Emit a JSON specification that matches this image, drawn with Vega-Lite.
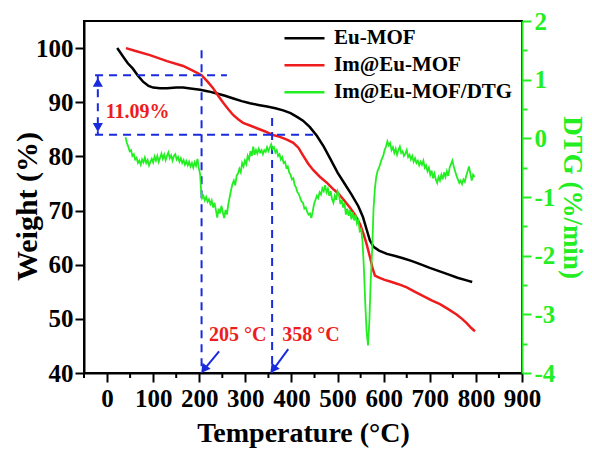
{
  "$schema": "https://vega.github.io/schema/vega-lite/v6.json",
  "width": 438,
  "height": 352,
  "autosize": "none",
  "padding": {"left": 84, "top": 21, "right": 70, "bottom": 79},
  "config": {
    "view": {"stroke": "black", "strokeWidth": 2},
    "font": "Liberation Serif",
    "axis": {"labelFont": "Liberation Serif", "labelFontWeight": "bold", "labelFontSize": 25, "titleFont": "Liberation Serif", "titleFontWeight": "bold", "titleFontSize": 28, "grid": false, "domainColor": "black", "domainWidth": 2, "tickColor": "black", "tickWidth": 2, "labelColor": "black", "titleColor": "black", "labelOverlap": false, "labelFlush": false}
  },
  "datasets": {
    "tga": [
      {"T": 22, "W": 100, "series": "Eu-MOF"}, {"T": 35, "W": 98.4, "series": "Eu-MOF"}, {"T": 45, "W": 97.2, "series": "Eu-MOF"}, {"T": 56, "W": 96.2, "series": "Eu-MOF"}, {"T": 67, "W": 94.9, "series": "Eu-MOF"}, {"T": 78, "W": 93.8, "series": "Eu-MOF"}, {"T": 90, "W": 93.0, "series": "Eu-MOF"}, {"T": 100, "W": 92.7, "series": "Eu-MOF"}, {"T": 115, "W": 92.6, "series": "Eu-MOF"}, {"T": 130, "W": 92.6, "series": "Eu-MOF"}, {"T": 150, "W": 92.7, "series": "Eu-MOF"}, {"T": 165, "W": 92.7, "series": "Eu-MOF"}, {"T": 185, "W": 92.5, "series": "Eu-MOF"}, {"T": 202, "W": 92.3, "series": "Eu-MOF"}, {"T": 220, "W": 92.0, "series": "Eu-MOF"}, {"T": 238, "W": 91.6, "series": "Eu-MOF"}, {"T": 256, "W": 91.2, "series": "Eu-MOF"}, {"T": 274, "W": 90.7, "series": "Eu-MOF"}, {"T": 292, "W": 90.2, "series": "Eu-MOF"}, {"T": 310, "W": 89.8, "series": "Eu-MOF"}, {"T": 328, "W": 89.5, "series": "Eu-MOF"}, {"T": 347, "W": 89.2, "series": "Eu-MOF"}, {"T": 365, "W": 88.9, "series": "Eu-MOF"}, {"T": 382, "W": 88.5, "series": "Eu-MOF"}, {"T": 398, "W": 88.0, "series": "Eu-MOF"}, {"T": 412, "W": 87.3, "series": "Eu-MOF"}, {"T": 425, "W": 86.6, "series": "Eu-MOF"}, {"T": 440, "W": 85.4, "series": "Eu-MOF"}, {"T": 455, "W": 83.8, "series": "Eu-MOF"}, {"T": 470, "W": 81.8, "series": "Eu-MOF"}, {"T": 484, "W": 79.6, "series": "Eu-MOF"}, {"T": 500, "W": 77.0, "series": "Eu-MOF"}, {"T": 515, "W": 75.0, "series": "Eu-MOF"}, {"T": 530, "W": 73.0, "series": "Eu-MOF"}, {"T": 545, "W": 70.8, "series": "Eu-MOF"}, {"T": 555, "W": 68.8, "series": "Eu-MOF"}, {"T": 563, "W": 66.5, "series": "Eu-MOF"}, {"T": 570, "W": 64.5, "series": "Eu-MOF"}, {"T": 578, "W": 63.3, "series": "Eu-MOF"}, {"T": 590, "W": 62.6, "series": "Eu-MOF"}, {"T": 607, "W": 62.0, "series": "Eu-MOF"}, {"T": 625, "W": 61.6, "series": "Eu-MOF"}, {"T": 642, "W": 61.2, "series": "Eu-MOF"}, {"T": 660, "W": 60.7, "series": "Eu-MOF"}, {"T": 679, "W": 60.1, "series": "Eu-MOF"}, {"T": 700, "W": 59.4, "series": "Eu-MOF"}, {"T": 720, "W": 58.8, "series": "Eu-MOF"}, {"T": 740, "W": 58.2, "series": "Eu-MOF"}, {"T": 760, "W": 57.6, "series": "Eu-MOF"}, {"T": 780, "W": 57.1, "series": "Eu-MOF"}, {"T": 792, "W": 56.8, "series": "Eu-MOF"},
      {"T": 41, "W": 100, "series": "Im@Eu-MOF"}, {"T": 60, "W": 99.5, "series": "Im@Eu-MOF"}, {"T": 93, "W": 98.7, "series": "Im@Eu-MOF"}, {"T": 130, "W": 97.6, "series": "Im@Eu-MOF"}, {"T": 165, "W": 96.7, "series": "Im@Eu-MOF"}, {"T": 187, "W": 95.8, "series": "Im@Eu-MOF"}, {"T": 205, "W": 95.0, "series": "Im@Eu-MOF"}, {"T": 218, "W": 93.8, "series": "Im@Eu-MOF"}, {"T": 230, "W": 92.6, "series": "Im@Eu-MOF"}, {"T": 241, "W": 91.2, "series": "Im@Eu-MOF"}, {"T": 252, "W": 89.9, "series": "Im@Eu-MOF"}, {"T": 263, "W": 88.7, "series": "Im@Eu-MOF"}, {"T": 274, "W": 87.6, "series": "Im@Eu-MOF"}, {"T": 285, "W": 86.8, "series": "Im@Eu-MOF"}, {"T": 295, "W": 86.2, "series": "Im@Eu-MOF"}, {"T": 310, "W": 85.7, "series": "Im@Eu-MOF"}, {"T": 325, "W": 85.2, "series": "Im@Eu-MOF"}, {"T": 343, "W": 84.6, "series": "Im@Eu-MOF"}, {"T": 358, "W": 84.0, "series": "Im@Eu-MOF"}, {"T": 375, "W": 83.6, "series": "Im@Eu-MOF"}, {"T": 390, "W": 83.1, "series": "Im@Eu-MOF"}, {"T": 404, "W": 82.5, "series": "Im@Eu-MOF"}, {"T": 415, "W": 81.6, "series": "Im@Eu-MOF"}, {"T": 425, "W": 80.2, "series": "Im@Eu-MOF"}, {"T": 436, "W": 78.7, "series": "Im@Eu-MOF"}, {"T": 447, "W": 77.5, "series": "Im@Eu-MOF"}, {"T": 462, "W": 76.2, "series": "Im@Eu-MOF"}, {"T": 477, "W": 75.1, "series": "Im@Eu-MOF"}, {"T": 490, "W": 74.0, "series": "Im@Eu-MOF"}, {"T": 501, "W": 73.2, "series": "Im@Eu-MOF"}, {"T": 515, "W": 71.8, "series": "Im@Eu-MOF"}, {"T": 527, "W": 70.5, "series": "Im@Eu-MOF"}, {"T": 538, "W": 69.2, "series": "Im@Eu-MOF"}, {"T": 549, "W": 67.4, "series": "Im@Eu-MOF"}, {"T": 557, "W": 65.5, "series": "Im@Eu-MOF"}, {"T": 563, "W": 63.8, "series": "Im@Eu-MOF"}, {"T": 570, "W": 61.5, "series": "Im@Eu-MOF"}, {"T": 576, "W": 59.3, "series": "Im@Eu-MOF"}, {"T": 581, "W": 58.0, "series": "Im@Eu-MOF"}, {"T": 590, "W": 57.6, "series": "Im@Eu-MOF"}, {"T": 602, "W": 57.2, "series": "Im@Eu-MOF"}, {"T": 614, "W": 56.9, "series": "Im@Eu-MOF"}, {"T": 632, "W": 56.4, "series": "Im@Eu-MOF"}, {"T": 650, "W": 55.8, "series": "Im@Eu-MOF"}, {"T": 668, "W": 55.0, "series": "Im@Eu-MOF"}, {"T": 686, "W": 54.2, "series": "Im@Eu-MOF"}, {"T": 704, "W": 53.4, "series": "Im@Eu-MOF"}, {"T": 722, "W": 52.7, "series": "Im@Eu-MOF"}, {"T": 740, "W": 51.8, "series": "Im@Eu-MOF"}, {"T": 758, "W": 50.8, "series": "Im@Eu-MOF"}, {"T": 770, "W": 50.0, "series": "Im@Eu-MOF"}, {"T": 780, "W": 49.2, "series": "Im@Eu-MOF"}, {"T": 790, "W": 48.3, "series": "Im@Eu-MOF"}, {"T": 798, "W": 47.7, "series": "Im@Eu-MOF"}
    ],
    "dtg": [
      {"T":40,"D":0.02},{"T":43,"D":-0.08},{"T":46,"D":-0.14},{"T":49,"D":-0.22},{"T":52,"D":-0.2},{"T":55,"D":-0.3},{"T":58,"D":-0.27},{"T":61,"D":-0.36},{"T":64,"D":-0.33},{"T":67,"D":-0.42},{"T":70,"D":-0.38},{"T":73,"D":-0.45},{"T":76,"D":-0.36},{"T":79,"D":-0.41},{"T":82,"D":-0.33},{"T":85,"D":-0.42},{"T":88,"D":-0.37},{"T":91,"D":-0.46},{"T":94,"D":-0.4},{"T":97,"D":-0.35},{"T":100,"D":-0.41},{"T":103,"D":-0.31},{"T":106,"D":-0.38},{"T":109,"D":-0.3},{"T":112,"D":-0.4},{"T":115,"D":-0.33},{"T":118,"D":-0.26},{"T":121,"D":-0.35},{"T":124,"D":-0.28},{"T":127,"D":-0.37},{"T":130,"D":-0.3},{"T":133,"D":-0.24},{"T":136,"D":-0.34},{"T":139,"D":-0.29},{"T":142,"D":-0.38},{"T":145,"D":-0.3},{"T":148,"D":-0.27},{"T":151,"D":-0.36},{"T":154,"D":-0.32},{"T":157,"D":-0.4},{"T":160,"D":-0.34},{"T":163,"D":-0.42},{"T":166,"D":-0.37},{"T":169,"D":-0.45},{"T":172,"D":-0.39},{"T":175,"D":-0.46},{"T":178,"D":-0.4},{"T":181,"D":-0.48},{"T":184,"D":-0.42},{"T":187,"D":-0.5},{"T":190,"D":-0.41},{"T":193,"D":-0.47},{"T":196,"D":-0.35},{"T":199,"D":-0.5},{"T":202,"D":-0.62},{"T":204,"D":-0.9},{"T":206,"D":-1.02},{"T":209,"D":-0.98},{"T":212,"D":-1.06},{"T":215,"D":-1.0},{"T":218,"D":-1.08},{"T":221,"D":-1.04},{"T":224,"D":-1.12},{"T":227,"D":-1.06},{"T":230,"D":-1.18},{"T":233,"D":-1.1},{"T":236,"D":-1.22},{"T":239,"D":-1.35},{"T":242,"D":-1.2},{"T":245,"D":-1.28},{"T":248,"D":-1.15},{"T":251,"D":-1.26},{"T":254,"D":-1.36},{"T":257,"D":-1.22},{"T":260,"D":-1.3},{"T":263,"D":-1.12},{"T":266,"D":-1.0},{"T":269,"D":-0.88},{"T":272,"D":-0.78},{"T":275,"D":-0.72},{"T":278,"D":-0.8},{"T":281,"D":-0.64},{"T":284,"D":-0.6},{"T":287,"D":-0.52},{"T":290,"D":-0.58},{"T":293,"D":-0.42},{"T":296,"D":-0.48},{"T":299,"D":-0.38},{"T":302,"D":-0.44},{"T":305,"D":-0.3},{"T":308,"D":-0.36},{"T":311,"D":-0.22},{"T":314,"D":-0.3},{"T":317,"D":-0.14},{"T":320,"D":-0.28},{"T":323,"D":-0.2},{"T":326,"D":-0.26},{"T":329,"D":-0.18},{"T":332,"D":-0.24},{"T":335,"D":-0.2},{"T":338,"D":-0.27},{"T":341,"D":-0.2},{"T":344,"D":-0.23},{"T":347,"D":-0.15},{"T":350,"D":-0.22},{"T":353,"D":-0.16},{"T":356,"D":-0.1},{"T":359,"D":-0.18},{"T":362,"D":-0.15},{"T":365,"D":-0.24},{"T":368,"D":-0.2},{"T":371,"D":-0.3},{"T":374,"D":-0.27},{"T":377,"D":-0.36},{"T":380,"D":-0.32},{"T":383,"D":-0.42},{"T":386,"D":-0.4},{"T":389,"D":-0.5},{"T":392,"D":-0.48},{"T":395,"D":-0.58},{"T":398,"D":-0.62},{"T":401,"D":-0.7},{"T":404,"D":-0.68},{"T":407,"D":-0.8},{"T":410,"D":-0.84},{"T":413,"D":-0.92},{"T":416,"D":-0.95},{"T":419,"D":-1.02},{"T":422,"D":-1.08},{"T":425,"D":-1.1},{"T":428,"D":-1.2},{"T":431,"D":-1.18},{"T":434,"D":-1.25},{"T":437,"D":-1.3},{"T":440,"D":-1.28},{"T":443,"D":-1.36},{"T":446,"D":-1.25},{"T":449,"D":-1.12},{"T":452,"D":-1.05},{"T":455,"D":-0.98},{"T":458,"D":-1.02},{"T":461,"D":-0.92},{"T":464,"D":-0.96},{"T":467,"D":-0.85},{"T":470,"D":-0.9},{"T":473,"D":-0.8},{"T":476,"D":-0.92},{"T":479,"D":-0.86},{"T":482,"D":-0.98},{"T":485,"D":-0.9},{"T":488,"D":-1.04},{"T":491,"D":-1.1},{"T":494,"D":-0.98},{"T":497,"D":-1.05},{"T":500,"D":-0.9},{"T":503,"D":-0.96},{"T":506,"D":-1.12},{"T":509,"D":-1.05},{"T":512,"D":-1.18},{"T":515,"D":-1.1},{"T":518,"D":-1.3},{"T":521,"D":-1.2},{"T":524,"D":-1.32},{"T":527,"D":-1.22},{"T":530,"D":-1.38},{"T":533,"D":-1.26},{"T":536,"D":-1.4},{"T":539,"D":-1.3},{"T":542,"D":-1.45},{"T":545,"D":-1.4},{"T":548,"D":-1.58},{"T":551,"D":-1.55},{"T":554,"D":-1.75},{"T":557,"D":-2.2},{"T":560,"D":-2.8},{"T":563,"D":-3.3},{"T":566,"D":-3.53},{"T":569,"D":-3.1},{"T":572,"D":-2.4},{"T":575,"D":-1.9},{"T":578,"D":-1.2},{"T":581,"D":-0.85},{"T":584,"D":-0.65},{"T":587,"D":-0.55},{"T":590,"D":-0.5},{"T":593,"D":-0.42},{"T":596,"D":-0.35},{"T":599,"D":-0.3},{"T":602,"D":-0.2},{"T":605,"D":-0.14},{"T":608,"D":-0.05},{"T":611,"D":-0.12},{"T":614,"D":-0.08},{"T":617,"D":-0.2},{"T":620,"D":-0.15},{"T":623,"D":-0.25},{"T":626,"D":-0.18},{"T":629,"D":-0.28},{"T":632,"D":-0.2},{"T":635,"D":-0.14},{"T":638,"D":-0.25},{"T":641,"D":-0.22},{"T":644,"D":-0.3},{"T":647,"D":-0.26},{"T":650,"D":-0.2},{"T":653,"D":-0.32},{"T":656,"D":-0.28},{"T":659,"D":-0.36},{"T":662,"D":-0.3},{"T":665,"D":-0.4},{"T":668,"D":-0.34},{"T":671,"D":-0.42},{"T":674,"D":-0.38},{"T":677,"D":-0.46},{"T":680,"D":-0.4},{"T":683,"D":-0.45},{"T":686,"D":-0.38},{"T":689,"D":-0.5},{"T":692,"D":-0.46},{"T":695,"D":-0.56},{"T":698,"D":-0.5},{"T":701,"D":-0.62},{"T":704,"D":-0.55},{"T":707,"D":-0.68},{"T":710,"D":-0.6},{"T":713,"D":-0.7},{"T":716,"D":-0.76},{"T":719,"D":-0.66},{"T":722,"D":-0.72},{"T":725,"D":-0.62},{"T":728,"D":-0.7},{"T":731,"D":-0.58},{"T":734,"D":-0.66},{"T":737,"D":-0.56},{"T":740,"D":-0.64},{"T":743,"D":-0.5},{"T":746,"D":-0.44},{"T":749,"D":-0.38},{"T":752,"D":-0.48},{"T":755,"D":-0.56},{"T":758,"D":-0.64},{"T":761,"D":-0.7},{"T":764,"D":-0.76},{"T":767,"D":-0.72},{"T":770,"D":-0.78},{"T":773,"D":-0.7},{"T":776,"D":-0.74},{"T":779,"D":-0.64},{"T":782,"D":-0.56},{"T":785,"D":-0.48},{"T":788,"D":-0.6},{"T":791,"D":-0.72},{"T":794,"D":-0.62},{"T":797,"D":-0.66}
    ],
    "minorx": [
      {"x": -50, "y": 40, "y2": 39.08}, {"x": 50, "y": 40, "y2": 39.08}, {"x": 150, "y": 40, "y2": 39.08}, {"x": 250, "y": 40, "y2": 39.08}, {"x": 350, "y": 40, "y2": 39.08}, {"x": 450, "y": 40, "y2": 39.08}, {"x": 550, "y": 40, "y2": 39.08}, {"x": 650, "y": 40, "y2": 39.08}, {"x": 750, "y": 40, "y2": 39.08}, {"x": 850, "y": 40, "y2": 39.08}
    ],
    "guides": [
      {"x": -26, "x2": 260, "y": 95, "y2": 95},
      {"x": -26, "x2": 447, "y": 84, "y2": 84},
      {"x": 205, "x2": 205, "y": 99.6, "y2": 40},
      {"x": 358, "x2": 358, "y": 87.1, "y2": 40},
      {"x": -20, "x2": -20, "y": 95, "y2": 84}
    ],
    "arrows": [
      {"x": 243, "x2": 212, "y": 44, "y2": 40.8},
      {"x": 393, "x2": 362, "y": 44.4, "y2": 40.8}
    ],
    "heads": [
      {"x": -20, "y": 93.4, "dir": 0},
      {"x": -20, "y": 85.6, "dir": 180},
      {"x": 212, "y": 40.9, "dir": 217},
      {"x": 362, "y": 40.9, "dir": 217}
    ],
    "labels": [
      {"x": -3, "y": 88.2, "text": "11.09%"},
      {"x": 221, "y": 47.1, "text": "205 °C"},
      {"x": 380, "y": 47.1, "text": "358 °C"}
    ]
  },
  "layer": [
    {
      "layer": [
        {
          "data": {"name": "tga"},
          "mark": {"type": "line", "strokeWidth": 2.5},
          "encoding": {
            "x": {"field": "T", "type": "quantitative", "scale": {"domain": [-50, 900], "nice": false, "zero": false},
              "axis": {"title": "Temperature (°C)", "values": [0, 100, 200, 300, 400, 500, 600, 700, 800, 900], "format": "d", "tickSize": 9, "labelPadding": 4, "titlePadding": 8}},
            "y": {"field": "W", "type": "quantitative", "scale": {"domain": [40, 105], "nice": false, "zero": false},
              "axis": {"orient": "left", "title": "Weight (%)", "titleFontSize": 30, "values": [40, 45, 50, 55, 60, 65, 70, 75, 80, 85, 90, 95, 100],
                "labelExpr": "datum.value % 10 === 0 ? '' + datum.value : ''", "tickSize": {"condition": {"test": "datum.value % 10 !== 0", "value": 5}, "value": 9}, "labelPadding": 2, "titleX": -42, "titleY": 185}},
            "color": {"field": "series", "type": "nominal",
              "scale": {"domain": ["Eu-MOF", "Im@Eu-MOF", "Im@Eu-MOF/DTG"], "range": ["#000000", "#ee1c1c", "#22ee22"]},
              "legend": {"orient": "none", "legendX": 199, "legendY": 4, "title": null, "symbolType": "stroke", "symbolSize": 1600, "symbolStrokeWidth": 2.5, "labelFont": "Liberation Serif", "labelFontSize": 21, "labelFontWeight": "bold", "labelColor": "black", "labelLimit": 400, "clipHeight": 26.5, "rowPadding": 0, "labelOffset": 8}}
          }
        },
        {
          "data": {"name": "minorx"},
          "mark": {"type": "rule", "color": "black", "strokeWidth": 2},
          "encoding": {
            "x": {"field": "x", "type": "quantitative"},
            "y": {"field": "y", "type": "quantitative"},
            "y2": {"field": "y2"}
          }
        },
        {
          "data": {"name": "guides"},
          "mark": {"type": "rule", "color": "#1a2bdd", "strokeWidth": 2, "strokeDash": [8, 6]},
          "encoding": {
            "x": {"field": "x", "type": "quantitative"},
            "x2": {"field": "x2"},
            "y": {"field": "y", "type": "quantitative"},
            "y2": {"field": "y2"}
          }
        },
        {
          "data": {"name": "arrows"},
          "mark": {"type": "rule", "color": "#1a2bdd", "strokeWidth": 2},
          "encoding": {
            "x": {"field": "x", "type": "quantitative"},
            "x2": {"field": "x2"},
            "y": {"field": "y", "type": "quantitative"},
            "y2": {"field": "y2"}
          }
        },
        {
          "data": {"name": "heads"},
          "mark": {"type": "point", "shape": "triangle", "filled": true, "fill": "#1a2bdd", "stroke": "#1a2bdd", "size": 45, "opacity": 1},
          "encoding": {
            "x": {"field": "x", "type": "quantitative"},
            "y": {"field": "y", "type": "quantitative"},
            "angle": {"field": "dir", "type": "quantitative", "scale": null}
          }
        },
        {
          "data": {"name": "labels"},
          "mark": {"type": "text", "align": "left", "baseline": "middle", "font": "Liberation Serif", "fontWeight": "bold", "fontSize": 20, "color": "#ee1c1c"},
          "encoding": {
            "x": {"field": "x", "type": "quantitative"},
            "y": {"field": "y", "type": "quantitative"},
            "text": {"field": "text"}
          }
        }
      ]
    },
    {
      "data": {"name": "dtg"},
      "transform": [{"calculate": "'Im@Eu-MOF/DTG'", "as": "series"}],
      "mark": {"type": "line", "strokeWidth": 1.8},
      "encoding": {
        "x": {"field": "T", "type": "quantitative",
          "axis": {"title": "Temperature (°C)", "values": [0, 100, 200, 300, 400, 500, 600, 700, 800, 900], "format": "d", "tickSize": 9, "labelPadding": 4, "titlePadding": 8}},
        "y": {"field": "D", "type": "quantitative", "scale": {"domain": [-4, 2], "nice": false, "zero": false},
          "axis": {"orient": "right", "title": "DTG (%/min)", "titleFontSize": 27, "values": [-4, -3.5, -3, -2.5, -2, -1.5, -1, -0.5, 0, 0.5, 1, 1.5, 2],
            "labelExpr": "datum.value % 1 === 0 ? '' + datum.value : ''", "tickSize": {"condition": {"test": "datum.value % 1 !== 0", "value": 5}, "value": 9},
            "domainColor": "#22ee22", "tickColor": "#22ee22", "labelColor": "#22ee22", "titleColor": "#22ee22", "labelPadding": 3, "titlePadding": 3}},
        "color": {"field": "series", "type": "nominal"}
      }
    }
  ],
  "resolve": {"scale": {"y": "independent"}}
}
